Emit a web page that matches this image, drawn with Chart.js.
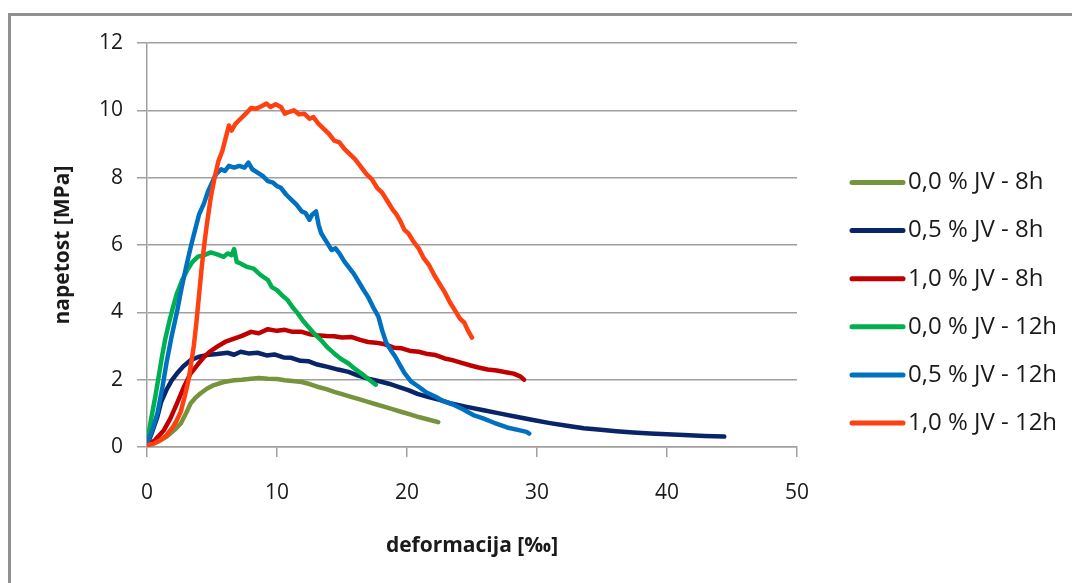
<!DOCTYPE html>
<html>
<head>
<meta charset="utf-8">
<script src="https://cdn.jsdelivr.net/npm/chart.js@4.4.1/dist/chart.umd.min.js"></script>
<style>
  html, body { margin: 0; padding: 0; background: #fff; }
  #wrap { position: relative; width: 1072px; height: 583px; overflow: hidden; }
  #frame { position: absolute; left: 8px; top: 13px; right: -10px; bottom: -10px;
           border-top: 3px solid #909090; border-left: 3px solid #909090; pointer-events: none; }
  canvas { position: absolute; left: 0; top: 0; }
</style>
</head>
<body>
<div id="wrap">
  <canvas id="c" width="1072" height="583"></canvas>
  <div id="frame"></div>
</div>
<script>
// ---- data ----
const seriesLabels = ['0,0 % JV - 8h', '0,5 % JV - 8h', '1,0 % JV - 8h', '0,0 % JV - 12h', '0,5 % JV - 12h', '1,0 % JV - 12h'];
const seriesColors = ['#77933C', '#0A2567', '#C00000', '#00B050', '#0070C0', '#FF4010'];

const xTicks = [0, 10, 20, 30, 40, 50];
const yTicks = [0, 2, 4, 6, 8, 10, 12];

const olive8hX = [0,0.8,1.5,2.1,2.6,3.0,3.35,3.7,4.1,4.6,5.15,5.9,6.7,7.3,8.0,8.6,9.3,10.0,10.6,11.2,11.9,12.5,13.1,13.8,14.4,15.0,15.7,16.3,17.0,17.6,18.3,19.0,19.6,20.3,20.9,21.7,22.4];
const olive8hY = [0.05,0.15,0.3,0.5,0.7,1.0,1.29,1.45,1.59,1.73,1.84,1.93,1.98,2.0,2.03,2.05,2.03,2.02,1.98,1.96,1.93,1.87,1.79,1.72,1.64,1.57,1.49,1.42,1.34,1.27,1.19,1.11,1.04,0.96,0.89,0.81,0.74];

const navy8hX = [0,0.4,0.8,1.1,1.5,1.9,2.3,2.8,3.35,4.0,4.6,5.4,6.2,6.7,7.2,7.8,8.5,9.2,9.8,10.5,11.1,11.8,12.4,13.1,13.9,14.7,15.5,16.2,17.0,17.8,18.6,19.4,20.1,20.8,21.6,22.5,23.3,24.5,25.8,27.1,28.4,29.7,31.0,32.3,33.6,34.9,36.1,37.4,38.7,40.0,41.3,42.9,44.4];
const navy8hY = [0.05,0.45,0.9,1.35,1.7,1.98,2.18,2.4,2.58,2.68,2.73,2.76,2.8,2.74,2.83,2.78,2.8,2.72,2.75,2.66,2.65,2.56,2.55,2.45,2.38,2.3,2.23,2.13,2.03,1.96,1.88,1.78,1.69,1.58,1.49,1.4,1.3,1.2,1.1,1.0,0.9,0.8,0.71,0.63,0.56,0.51,0.47,0.43,0.40,0.38,0.36,0.33,0.31];

const red8hX = [0,0.6,1.3,1.8,2.3,2.8,3.35,3.9,4.4,4.9,5.4,6.0,6.7,7.3,8.0,8.6,9.3,10.0,10.6,11.2,11.9,12.5,13.1,13.8,14.4,15.0,15.7,16.4,17.0,17.6,18.3,19.0,19.6,20.3,20.9,21.6,22.2,22.9,23.5,24.2,24.9,25.5,26.2,26.9,27.6,28.2,28.7,29.0];
const red8hY = [0.05,0.2,0.5,0.85,1.29,1.75,2.18,2.45,2.68,2.85,2.98,3.12,3.22,3.3,3.42,3.38,3.5,3.45,3.48,3.42,3.42,3.35,3.32,3.3,3.29,3.25,3.27,3.18,3.12,3.1,3.05,2.95,2.93,2.85,2.83,2.76,2.73,2.63,2.58,2.5,2.42,2.36,2.3,2.27,2.22,2.18,2.1,2.0];

const green12hX = [0,0.3,0.64,0.9,1.16,1.4,1.7,2.0,2.3,2.7,3.1,3.5,3.9,4.4,4.9,5.4,5.9,6.2,6.5,6.7,6.9,7.2,7.7,8.2,8.7,9.3,9.6,10.0,10.4,10.8,11.2,11.6,12.0,12.4,12.9,13.4,13.9,14.4,14.9,15.5,16.0,16.5,17.1,17.6];
const green12hY = [0.1,0.8,1.5,2.1,2.7,3.2,3.7,4.15,4.56,4.95,5.26,5.5,5.65,5.7,5.78,5.72,5.65,5.75,5.7,5.88,5.5,5.45,5.35,5.3,5.12,4.96,4.75,4.66,4.5,4.37,4.15,3.97,3.75,3.57,3.35,3.17,2.95,2.78,2.62,2.48,2.32,2.18,2.0,1.85];

const blue12hX = [0,0.4,0.8,1.2,1.5,1.9,2.3,2.7,3.1,3.4,3.7,4.0,4.4,4.7,5.0,5.3,5.7,6.0,6.3,6.7,7.1,7.5,7.8,8.1,8.5,8.9,9.3,9.7,10.0,10.3,10.7,11.1,11.5,11.9,12.2,12.5,12.7,13.0,13.2,13.4,13.8,14.2,14.5,14.8,15.2,15.5,15.9,16.2,16.6,17.0,17.4,17.8,18.1,18.4,18.8,19.1,19.5,19.8,20.3,20.9,21.5,22.2,22.8,23.5,24.3,25.1,25.8,26.7,27.7,28.6,29.2,29.4];
const blue12hY = [0.1,0.5,1.0,1.8,2.5,3.3,4.0,4.8,5.5,6.0,6.45,6.9,7.25,7.6,7.85,8.1,8.25,8.2,8.35,8.3,8.35,8.3,8.45,8.25,8.15,8.05,7.9,7.85,7.75,7.7,7.5,7.35,7.2,7.0,6.95,6.75,6.9,7.0,6.6,6.35,6.1,5.85,5.9,5.75,5.5,5.35,5.15,4.96,4.7,4.46,4.15,3.87,3.45,3.1,2.85,2.68,2.4,2.2,1.95,1.79,1.62,1.49,1.36,1.27,1.12,0.95,0.86,0.72,0.58,0.5,0.45,0.4];

const orange12hX = [0,0.5,1.0,1.5,2.0,2.3,2.6,2.9,3.2,3.4,3.6,3.8,4.0,4.2,4.4,4.6,4.9,5.2,5.5,5.8,6.0,6.3,6.5,6.8,7.2,7.6,8.0,8.4,8.8,9.2,9.5,9.9,10.3,10.6,10.9,11.3,11.7,12.1,12.5,12.8,13.2,13.6,14.0,14.4,14.8,15.2,15.6,16.0,16.5,16.9,17.3,17.7,18.1,18.5,18.9,19.2,19.5,19.8,20.1,20.5,20.9,21.3,21.7,22.1,22.5,22.9,23.3,23.7,24.1,24.4,24.7,25.0];
const orange12hY = [0.05,0.1,0.2,0.35,0.6,0.8,1.05,1.5,2.0,2.5,3.0,3.7,4.5,5.3,6.0,6.6,7.4,8.0,8.5,8.8,9.1,9.55,9.4,9.6,9.75,9.9,10.07,10.05,10.12,10.2,10.1,10.18,10.1,9.9,9.95,10.0,9.88,9.9,9.75,9.8,9.6,9.45,9.3,9.1,9.05,8.85,8.7,8.55,8.3,8.1,7.95,7.7,7.55,7.3,7.05,6.9,6.7,6.45,6.35,6.1,5.9,5.6,5.4,5.1,4.85,4.6,4.3,4.05,3.8,3.7,3.45,3.25];

const seriesX = [olive8hX, navy8hX, red8hX, green12hX, blue12hX, orange12hX];
const seriesY = [olive8hY, navy8hY, red8hY, green12hY, blue12hY, orange12hY];

const xTitle = 'deformacija [‰]';
const yTitle = 'napetost [MPa]';

// ---- build chart ----
const FONT = '"Open Sans", "Noto Sans", sans-serif';
const datasets = seriesLabels.map((label, i) => ({
  label,
  data: seriesX[i].map((x, k) => ({ x, y: seriesY[i][k] })),
  borderColor: seriesColors[i],
  backgroundColor: seriesColors[i],
  borderWidth: 4.5,
  pointRadius: 0,
  pointHoverRadius: 0,
  showLine: true,
  tension: 0,
  borderJoinStyle: 'round',
  borderCapStyle: 'round',
  order: seriesLabels.length - i
}));

const sideLegend = {
  id: 'sideLegend',
  afterDraw(chart) {
    const ctx = chart.ctx;
    const top = 182.5, step = 48.1;
    chart.data.datasets.forEach((ds, i) => {
      const y = top + i * step;
      ctx.save();
      ctx.strokeStyle = ds.borderColor;
      ctx.lineWidth = 5;
      ctx.lineCap = 'round';
      ctx.beginPath();
      ctx.moveTo(852, y);
      ctx.lineTo(903, y);
      ctx.stroke();
      ctx.fillStyle = '#1a1a1a';
      ctx.font = '24px ' + FONT;
      ctx.textBaseline = 'middle';
      ctx.textAlign = 'left';
      ctx.fillText(ds.label, 908, y);
      ctx.restore();
    });
  }
};

new Chart(document.getElementById('c'), {
  type: 'scatter',
  data: { datasets },
  plugins: [sideLegend],
  options: {
    responsive: false,
    animation: false,
    events: [],
    layout: { padding: { top: 43, right: 275, left: 0, bottom: 0 } },
    plugins: { legend: { display: false }, tooltip: { enabled: false } },
    scales: {
      x: {
        type: 'linear',
        min: 0, max: 50,
        afterBuildTicks: s => { s.ticks = xTicks.map(v => ({ value: v })); },
        afterFit: s => { s.height = 136; },
        grid: { drawOnChartArea: false, drawTicks: true, tickLength: 10, color: '#a0a0a0', lineWidth: 1.5 },
        border: { color: '#a0a0a0', width: 1.5 },
        ticks: { color: '#1a1a1a', font: { family: FONT, size: 21 }, padding: 23, maxRotation: 0 },
        title: { display: true, text: xTitle, color: '#1a1a1a', font: { family: FONT, size: 21, weight: 'bold' }, padding: { top: 0, bottom: 24 } }
      },
      y: {
        type: 'linear',
        min: 0, max: 12,
        afterBuildTicks: s => { s.ticks = yTicks.map(v => ({ value: v })); },
        afterFit: s => { s.width = 147; },
        grid: { drawOnChartArea: true, drawTicks: true, tickLength: 10, color: '#a0a0a0', lineWidth: 1.5 },
        border: { color: '#a0a0a0', width: 1.5 },
        ticks: { color: '#1a1a1a', font: { family: FONT, size: 21 }, padding: 14 },
        title: { display: true, text: yTitle, color: '#1a1a1a', font: { family: FONT, size: 21, weight: 'bold' }, padding: { top: 50, bottom: 0 } }
      }
    }
  }
});
</script>
</body>
</html>
